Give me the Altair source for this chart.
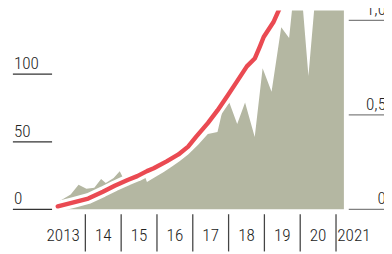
import altair as alt
import pandas as pd

# Grey area (right axis, 0..1)
area_x = [2013.21, 2013.59, 2013.81, 2014.03, 2014.25, 2014.44, 2014.57, 2014.79, 2014.96,
          2015.07, 2015.31, 2015.67, 2015.72, 2016.00, 2016.19, 2016.43, 2016.63, 2016.87,
          2017.15, 2017.42, 2017.69, 2017.83, 2018.02, 2018.24, 2018.46, 2018.73, 2018.95,
          2019.20, 2019.47, 2019.69, 2019.82, 2020.04, 2020.23, 2020.43, 2020.78, 2021.22]
area_v = [0.036, 0.078, 0.130, 0.109, 0.114, 0.161, 0.140, 0.166, 0.202,
          0.161, 0.150, 0.171, 0.145, 0.176, 0.197, 0.228, 0.254, 0.290,
          0.342, 0.399, 0.409, 0.523, 0.565, 0.451, 0.565, 0.383, 0.746,
          0.622, 0.964, 0.907, 1.145, 1.145, 0.705, 1.145, 1.197, 1.197]

# Red line (left axis)
line_x = [2013.23, 2013.67, 2014.08, 2014.49, 2014.82, 2015.18, 2015.45, 2015.72, 2015.91,
          2016.27, 2016.60, 2016.87, 2017.09, 2017.42, 2017.69, 2017.97, 2018.24, 2018.51,
          2018.73, 2018.87, 2018.98, 2019.25, 2019.47, 2019.69]
line_v = [2.2, 5.1, 8.0, 13.0, 17.4, 21.7, 24.6, 28.3, 30.4,
          35.5, 40.6, 46.4, 53.6, 63.8, 73.2, 84.1, 94.9, 105.8,
          111.6, 120.3, 127.5, 138.4, 151.4, 163.8]

left_ticks = [0, 50, 100, 150]
left_labels = ["0", "50", "100", "150"]
right_ticks = [0, 0.5, 1.0]
right_labels = ["0", "0,5", "1,0"]
sep_years = [2014, 2015, 2016, 2017, 2018, 2019, 2020, 2021]
year_pos = [2013.38, 2014.5, 2015.5, 2016.5, 2017.5, 2018.5, 2019.5, 2020.5, 2021.5]
year_labels = ["2013", "14", "15", "16", "17", "18", "19", "20", "2021"]

FONT = "Roboto Condensed, DejaVu Sans Condensed, sans-serif"
FS = 17.5
FW = 300
W, H = 384, 246
xs = alt.Scale(domain=[2011.8398, 2022.34], nice=False, zero=False)
ls = alt.Scale(domain=[-31.16, 147.10], nice=False, zero=False)
rs = alt.Scale(domain=[-0.2228, 1.0518], nice=False, zero=False)

area_df = pd.DataFrame({"x": area_x, "v": area_v})
line_df = pd.DataFrame({"x": line_x, "v": line_v})
lt_df = pd.DataFrame({"v": left_ticks, "t": left_labels})
rt_df = pd.DataFrame({"v": right_ticks, "t": right_labels})
sep_df = pd.DataFrame({"x": sep_years})
yl_df = pd.DataFrame({"x": year_pos, "t": year_labels})

X = alt.X("x:Q", scale=xs, axis=None)

area = alt.Chart(area_df).mark_area(color="#b4b7a2", clip=True).encode(
    x=X, y=alt.Y("v:Q", scale=rs, axis=None), y2=alt.datum(0))

white = alt.Chart(line_df).mark_line(color="white", strokeWidth=11, strokeCap="round",
                                      strokeJoin="round", clip=True).encode(
    x=X, y=alt.Y("v:Q", scale=ls, axis=None))
red = alt.Chart(line_df).mark_line(color="#ea4a52", strokeWidth=4.5, strokeCap="round",
                                    strokeJoin="round", clip=True).encode(
    x=X, y=alt.Y("v:Q", scale=ls, axis=None))

lrule = alt.Chart(lt_df).mark_rule(color="#333333", strokeWidth=1.3).encode(
    x=alt.value(5), x2=alt.value(45), y=alt.Y("v:Q", scale=ls, axis=None))
ltext = alt.Chart(lt_df).mark_text(align="left", baseline="alphabetic", dy=-5, dx=0,
                                   font=FONT, fontSize=FS, fontWeight=FW,
                                   color="#222222").encode(
    x=alt.value(6), y=alt.Y("v:Q", scale=ls, axis=None), text="t:N")

rrule = alt.Chart(rt_df).mark_rule(color="#808080", strokeWidth=1.3).encode(
    x=alt.value(348), x2=alt.value(390), y=alt.Y("v:Q", scale=rs, axis=None))
rtext = alt.Chart(rt_df).mark_text(align="right", baseline="alphabetic", dy=-5,
                                   font=FONT, fontSize=FS, fontWeight=FW,
                                   color="#222222").encode(
    x=alt.value(386), y=alt.Y("v:Q", scale=rs, axis=None), text="t:N")

seps = alt.Chart(sep_df).mark_rule(color="#444444", strokeWidth=1.3).encode(
    x=X, y=alt.value(208), y2=alt.value(246))
ytext = alt.Chart(yl_df).mark_text(align="center", baseline="alphabetic",
                                   font=FONT, fontSize=FS, fontWeight=FW,
                                   color="#222222").encode(
    x=X, y=alt.value(235), text="t:N")

chart = alt.layer(area, white, red, lrule, ltext, rrule, rtext, seps, ytext).resolve_scale(
    y="independent"
).properties(width=W, height=H, padding=0, autosize="none").configure_view(stroke=None)

chart.save("out.html", embed_options={"renderer": "svg", "actions": False})
